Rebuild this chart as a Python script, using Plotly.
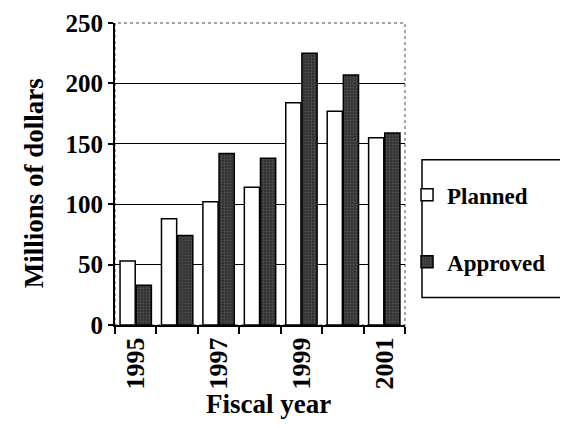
import plotly.graph_objects as go

years = [1995, 1996, 1997, 1998, 1999, 2000, 2001]
planned = [53, 88, 102, 114, 184, 177, 155]
approved = [33, 74, 142, 138, 225, 207, 159]
tick_years = [1995, 1997, 1999, 2001]
tick_labels = ["1995", "1997", "1999", "2001"]

FONT = "Liberation Serif"

fig = go.Figure()
fig.add_trace(go.Bar(x=years, y=planned, name="Planned", legendgroup="a",
                     marker=dict(color="white", line=dict(color="black", width=1.5))))
fig.add_trace(go.Bar(x=years, y=approved, name="Approved", legendgroup="b",
                     marker=dict(color="#333333", pattern=dict(shape=".", fgcolor="#707070", size=3, solidity=0.3),
                                 line=dict(color="black", width=1.5))))

fig.update_layout(
    width=560, height=420,
    margin=dict(l=107, r=163, t=15, b=103, autoexpand=False),
    paper_bgcolor="white", plot_bgcolor="white",
    barmode="group", bargap=0.22, bargroupgap=0.06,
    font=dict(family=FONT, color="black"),
    showlegend=True,
    legend=dict(x=1.007, xanchor="left", y=0.502, yanchor="top",
                bgcolor="rgba(0,0,0,0)", borderwidth=0,
                font=dict(family=FONT, size=23, color="black", weight="bold"),
                tracegroupgap=34, traceorder="grouped", itemwidth=30),
    xaxis=dict(range=[1994.5, 2001.5], tickvals=tick_years, ticktext=tick_labels,
               tickangle=-90, ticks="", showgrid=False, automargin=False,
               showline=True, linecolor="black", linewidth=2,
               ticklabeloverflow="allow",
               tickfont=dict(family=FONT, size=26, color="black", weight="bold"),
               minor=dict(tick0=1994.5, dtick=1, ticks="outside", ticklen=7,
                          tickwidth=1.5, tickcolor="black", showgrid=False),
               zeroline=False),
    yaxis=dict(range=[0, 250], dtick=50, ticks="outside", ticklen=5, tickwidth=1.5,
               tickcolor="black", showgrid=True, gridcolor="black", gridwidth=1.2,
               showline=True, linecolor="black", linewidth=2, zeroline=False, automargin=False,
               ticklabeloverflow="allow",
               tickfont=dict(family=FONT, size=25, color="black", weight="bold")),
    annotations=[
        dict(text="Millions of dollars", xref="paper", yref="paper", x=-0.279, y=0.47,
             textangle=-90, showarrow=False, xanchor="center", yanchor="middle",
             font=dict(family=FONT, size=27, color="black", weight="bold")),
        dict(text="Fiscal year", xref="paper", yref="paper", x=0.528, y=-0.261,
             showarrow=False, xanchor="center", yanchor="middle",
             font=dict(family=FONT, size=27, color="black", weight="bold")),
    ],
    shapes=[
        dict(type="rect", xref="paper", yref="paper", x0=0, x1=1, y0=0, y1=1,
             line=dict(color="#888", width=1.5, dash="dot"), layer="below"),
        dict(type="rect", xref="paper", yref="paper", x0=1.0586, x1=1.7, y0=0.0912, y1=0.547,
             line=dict(color="black", width=1.5), layer="below"),
    ],
)

fig.write_html("out.html")
